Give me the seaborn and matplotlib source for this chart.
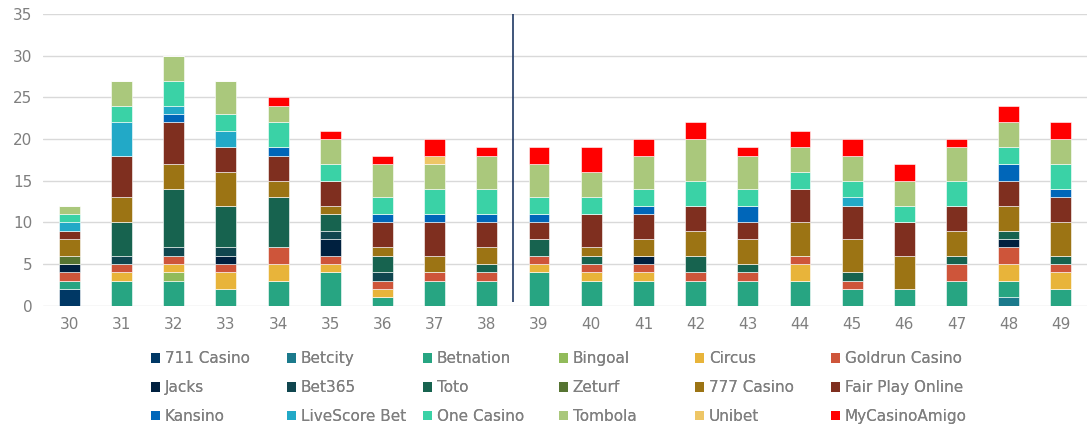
import matplotlib
matplotlib.use("Agg")
import matplotlib.pyplot as plt
from matplotlib.patches import Patch
import seaborn as sns
import numpy as np
import pandas as pd

weeks = [str(w) for w in range(30, 50)]

# weeks:            30 31 32 33 34 35 36 37 38 39 40 41 42 43 44 45 46 47 48 49
casino_711     = [2, 0, 0, 0, 0, 0, 0, 0, 0, 0, 0, 0, 0, 0, 0, 0, 0, 0, 0, 0]
betcity        = [0, 0, 0, 0, 0, 0, 0, 0, 0, 0, 0, 0, 0, 0, 0, 0, 0, 0, 1, 0]
betnation      = [1, 3, 3, 2, 3, 4, 1, 3, 3, 4, 3, 3, 3, 3, 3, 2, 2, 3, 2, 2]
bingoal        = [0, 0, 1, 0, 0, 0, 0, 0, 0, 0, 0, 0, 0, 0, 0, 0, 0, 0, 0, 0]
circus         = [0, 1, 1, 2, 2, 1, 1, 0, 0, 1, 1, 1, 0, 0, 2, 0, 0, 0, 2, 2]
goldrun        = [1, 1, 1, 1, 2, 1, 1, 1, 1, 1, 1, 1, 1, 1, 1, 1, 0, 2, 2, 1]
jacks          = [1, 0, 0, 1, 0, 2, 0, 0, 0, 0, 0, 1, 0, 0, 0, 0, 0, 0, 1, 0]
bet365         = [0, 1, 1, 1, 0, 1, 1, 0, 0, 0, 0, 0, 0, 0, 0, 0, 0, 0, 0, 0]
toto           = [0, 4, 7, 5, 6, 2, 2, 0, 1, 2, 1, 0, 2, 1, 0, 1, 0, 1, 1, 1]
zeturf         = [1, 0, 0, 0, 0, 0, 0, 0, 0, 0, 0, 0, 0, 0, 0, 0, 0, 0, 0, 0]
casino_777     = [2, 3, 3, 4, 2, 1, 1, 2, 2, 0, 1, 2, 3, 3, 4, 4, 4, 3, 3, 4]
fair_play      = [1, 5, 5, 3, 3, 3, 3, 4, 3, 2, 4, 3, 3, 2, 4, 4, 4, 3, 3, 3]
kansino        = [0, 0, 1, 0, 1, 0, 1, 1, 1, 1, 0, 1, 0, 2, 0, 0, 0, 0, 2, 1]
livescore      = [1, 4, 1, 2, 0, 0, 0, 0, 0, 0, 0, 0, 0, 0, 0, 1, 0, 0, 0, 0]
one_casino     = [1, 2, 3, 2, 3, 2, 2, 3, 3, 2, 2, 2, 3, 2, 2, 2, 2, 3, 2, 3]
tombola        = [1, 3, 3, 4, 2, 3, 4, 3, 4, 4, 3, 4, 5, 4, 3, 3, 3, 4, 3, 3]
unibet         = [0, 0, 0, 0, 0, 0, 0, 1, 0, 0, 0, 0, 0, 0, 0, 0, 0, 0, 0, 0]
mycasinoamigo  = [0, 0, 0, 0, 1, 1, 1, 2, 1, 2, 3, 2, 2, 1, 2, 2, 2, 1, 2, 2]

brands = ["711 Casino", "Betcity", "Betnation", "Bingoal", "Circus", "Goldrun Casino",
          "Jacks", "Bet365", "Toto", "Zeturf", "777 Casino", "Fair Play Online",
          "Kansino", "LiveScore Bet", "One Casino", "Tombola", "Unibet", "MyCasinoAmigo"]
values = [casino_711, betcity, betnation, bingoal, circus, goldrun,
          jacks, bet365, toto, zeturf, casino_777, fair_play,
          kansino, livescore, one_casino, tombola, unibet, mycasinoamigo]
colors = ["#003865", "#1B7A8C", "#27A582", "#91BB5A", "#E8B43A", "#CE553A",
          "#00203F", "#10464F", "#17634F", "#567432", "#9C7414", "#7F2F1F",
          "#0066B9", "#22A9C7", "#3AD2A6", "#AAC87C", "#EEC666", "#FF0000"]

sns.set_style("white")
plt.rcParams["font.family"] = ["DejaVu Sans"]

fig = plt.figure(figsize=(10.87, 4.25), dpi=100)
ax = fig.add_axes([0.0398, 0.281, 0.9602, 0.686])

bottom = np.zeros(len(weeks))
for brand, vals, col in zip(brands, values, colors):
    df = pd.DataFrame({"week": weeks, "n": vals})
    sns.barplot(data=df, x="week", y="n", order=weeks, color=col, width=0.4,
                bottom=bottom, edgecolor="white", linewidth=0.4, ax=ax,
                saturation=1)
    bottom = bottom + np.array(vals)

# divider between week 38 and 39
ax.vlines(8.5, 0.4, 35, color="#1F3864", linewidth=1.2, zorder=5)

ax.set_ylim(0, 35)
ax.set_xlim(-0.5, 19.5)
ax.set_yticks(range(0, 36, 5))
ax.yaxis.grid(True, color="#D9D9D9", linewidth=1)
ax.set_axisbelow(True)
for s in ax.spines.values():
    s.set_visible(False)
ax.set_xlabel("")
ax.set_ylabel("")
ax.tick_params(axis="both", length=0, labelsize=11, colors="#7F7F7F", pad=8)

# legend: 6 fixed-width columns, 3 rows, filled row by row
handles = [Patch(facecolor=c, edgecolor="none") for c in colors]
col_x = [151 + 136 * k for k in range(6)]
for c in range(6):
    idx = [r * 6 + c for r in range(3)]
    leg = fig.legend([handles[i] for i in idx], [brands[i] for i in idx],
                     loc="upper left", bbox_to_anchor=(col_x[c] / 1087, 0.173),
                     frameon=False, fontsize=11, labelcolor="#7F7F7F",
                     handlelength=0.6, handleheight=0.6, handletextpad=0.3,
                     labelspacing=0.9, borderaxespad=0, borderpad=0)
    fig.add_artist(leg)

fig.savefig("out.png", dpi=100)
